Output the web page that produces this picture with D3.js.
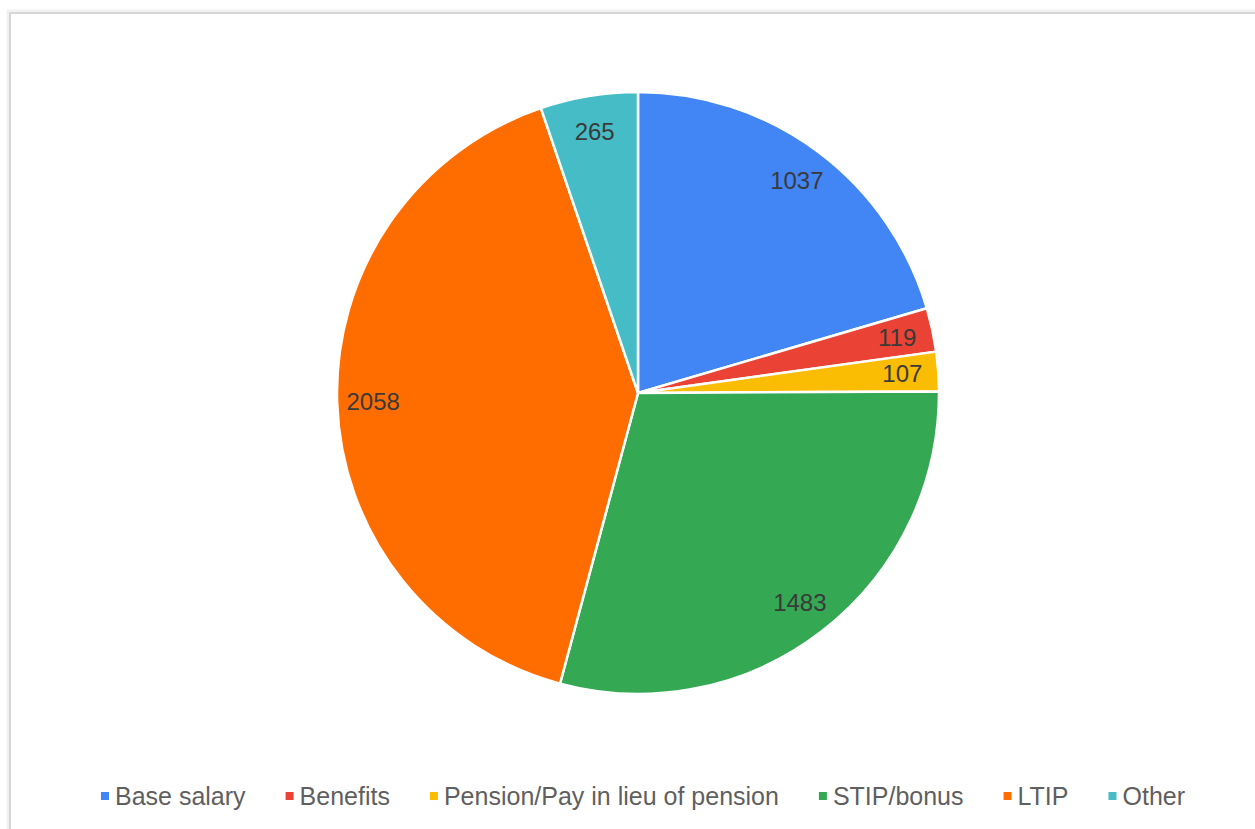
<!DOCTYPE html>
<html>
<head>
<meta charset="utf-8">
<script src="https://cdn.jsdelivr.net/npm/d3@7.9.0/dist/d3.min.js"></script>
<style>
  body { margin: 0; background: #fff; }
  text { font-family: "Liberation Sans", Arial, sans-serif; }
</style>
</head>
<body>
<div id="vis"></div>
<script>
const width = 1255, height = 829;

const categories = ["Base salary", "Benefits", "Pension/Pay in lieu of pension", "STIP/bonus", "LTIP", "Other"];
const values = [1037, 119, 107, 1483, 2058, 265];
const colors = ["#4285f4", "#ea4335", "#fbbc04", "#34a853", "#ff6d01", "#46bdc6"];

const cx = 638, cy = 393, radius = 301;

const svg = d3.select("#vis").append("svg")
    .attr("width", width)
    .attr("height", height);

// frame
svg.append("rect")
    .attr("x", 9).attr("y", 12)
    .attr("width", width + 20).attr("height", height + 20)
    .attr("fill", "none")
    .attr("stroke", "#f1f1f1")
    .attr("stroke-width", 5);
svg.append("rect")
    .attr("x", 10).attr("y", 13)
    .attr("width", width + 20).attr("height", height + 20)
    .attr("fill", "#fff")
    .attr("stroke", "#d6d6d6")
    .attr("stroke-width", 2);

const color = d3.scaleOrdinal().domain(categories).range(colors);

const data = categories.map((c, i) => ({ name: c, value: values[i] }));
const pie = d3.pie().sort(null).value(d => d.value);
const arcs = pie(data);

const arc = d3.arc().innerRadius(0).outerRadius(radius);
const labelArc = d3.arc().innerRadius(265).outerRadius(265);

const g = svg.append("g").attr("transform", `translate(${cx},${cy})`);

g.selectAll("path")
  .data(arcs)
  .enter()
  .append("path")
  .attr("d", arc)
  .attr("fill", d => color(d.data.name))
  .attr("stroke", "#fff")
  .attr("stroke-width", 2.5)
  .attr("stroke-linejoin", "round");

g.selectAll("text.lbl")
  .data(arcs)
  .enter()
  .append("text")
  .attr("class", "lbl")
  .attr("transform", d => `translate(${labelArc.centroid(d)})`)
  .attr("text-anchor", "middle")
  .attr("dy", "0.35em")
  .attr("font-size", 24)
  .attr("fill", "#3a3a3a")
  .text(d => d.data.value);

// legend
const legend = svg.append("g").attr("transform", "translate(0,796)");
const items = legend.selectAll("g")
  .data(categories)
  .enter()
  .append("g");

items.append("rect")
  .attr("width", 8).attr("height", 8)
  .attr("y", -4)
  .attr("fill", d => color(d));

items.append("text")
  .attr("x", 14)
  .attr("dy", "0.35em")
  .attr("font-size", 25)
  .attr("fill", "#5f5f5f")
  .text(d => d);

let x = 0;
const gap = 40;
const offsets = [];
items.each(function () {
  const w = 14 + d3.select(this).select("text").node().getComputedTextLength();
  offsets.push(x);
  x += w + gap;
});
const total = x - gap;
const startX = 643 - total / 2;
items.attr("transform", (d, i) => `translate(${startX + offsets[i]},0)`);
</script>
</body>
</html>
